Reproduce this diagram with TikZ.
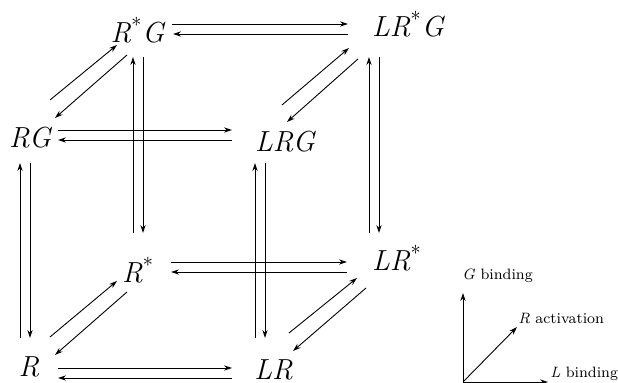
\documentclass[tikz,border=0pt]{standalone}
\usepackage{fontspec}
\usetikzlibrary{arrows.meta,calc}
\newcommand{\st}{\textsuperscript{\upshape*}}
\begin{document}
\begin{tikzpicture}[x=0.5pt,y=-0.5pt,
  lab/.style={inner sep=0pt,anchor=base,font=\fontsize{14.5}{17}\selectfont\itshape},
  leg/.style={inner sep=0pt,anchor=base west,font=\fontsize{7.5}{9}\selectfont},
  arr/.style={line width=0.45pt,-{Stealth[length=4pt,width=2.6pt,inset=1.3pt]}}]
\useasboundingbox (0,0) rectangle (618,383);
% states
\node[lab] (A) at (137.5,43) {R\st G};
\node[lab] (B) at (408,37) {LR\st G};
\node[lab] (C) at (30,148) {RG};
\node[lab] (D) at (285,152) {LRG};
\node[lab] (E) at (138,283) {R\st};
\node[lab] (F) at (397,271) {LR\st};
\node[lab] (G) at (29,377) {R};
\node[lab] (H) at (273.5,380) {LR};
% horizontal pairs
\draw[arr] ($(A.base)+(34.5,-19)$) -- ($(B.base)+(-60,-13)$);
\draw[arr] ($(B.base)+(-60,-3)$) -- ($(A.base)+(35.5,-9)$);
\draw[arr] ($(C.base)+(28,-18)$) -- ($(D.base)+(-53,-22)$);
\draw[arr] ($(D.base)+(-53,-12)$) -- ($(C.base)+(28,-8)$);
\draw[arr] ($(G.base)+(29,-9)$) -- ($(H.base)+(-41.5,-12)$);
\draw[arr] ($(H.base)+(-41.5,-2)$) -- ($(G.base)+(29,1)$);
\draw[arr] ($(E.base)+(33,-21)$) -- ($(F.base)+(-50,-9)$);
\draw[arr] ($(F.base)+(-50,1)$) -- ($(E.base)+(33,-11)$);
% vertical pairs
\draw[arr] ($(G.base)+(-9,-39)$) -- ($(C.base)+(-10,15)$);
\draw[arr] ($(C.base)+(0,15)$) -- ($(G.base)+(1,-39)$);
\draw[arr] ($(E.base)+(-5,-50)$) -- ($(A.base)+(-4.5,14)$);
\draw[arr] ($(A.base)+(5.5,14)$) -- ($(E.base)+(5,-50)$);
\draw[arr] ($(H.base)+(-18.5,-42)$) -- ($(D.base)+(-30,11)$);
\draw[arr] ($(D.base)+(-20,11)$) -- ($(H.base)+(-8.5,-42)$);
\draw[arr] ($(F.base)+(-28,-38)$) -- ($(B.base)+(-39,20)$);
\draw[arr] ($(B.base)+(-29,20)$) -- ($(F.base)+(-18,-38)$);
% diagonal pairs
\draw[arr] ($(C.base)+(20,-48)$) -- ($(A.base)+(-20.5,2)$);
\draw[arr] ($(A.base)+(-10.5,12)$) -- ($(C.base)+(25,-30)$);
\draw[arr] ($(D.base)+(-3,-47)$) -- ($(B.base)+(-59,11)$);
\draw[arr] ($(B.base)+(-50,22)$) -- ($(D.base)+(2,-30)$);
\draw[arr] ($(G.base)+(21,-40)$) -- ($(E.base)+(-21,-2)$);
\draw[arr] ($(E.base)+(-11,9)$) -- ($(G.base)+(26,-22)$);
\draw[arr] ($(H.base)+(15.5,-47)$) -- ($(F.base)+(-40,7)$);
\draw[arr] ($(F.base)+(-31,17)$) -- ($(H.base)+(19.5,-29)$);
% legend
\coordinate (O) at (463,382);
\coordinate (Gt) at (463,293);
\coordinate (Lt) at (548,382);
\coordinate (Rt) at (517,327);
\node[leg] (Gl) at (462,280) {\textit{G} binding};
\node[leg] (Rl) at (518,324) {\textit{R} activation};
\node[leg] (Ll) at (550,378) {\textit{L} binding};
\draw[arr] (O) -- (Gt);
\draw[arr] (O) -- (Lt);
\draw[arr] (O) -- (Rt);
\end{tikzpicture}
\end{document}
